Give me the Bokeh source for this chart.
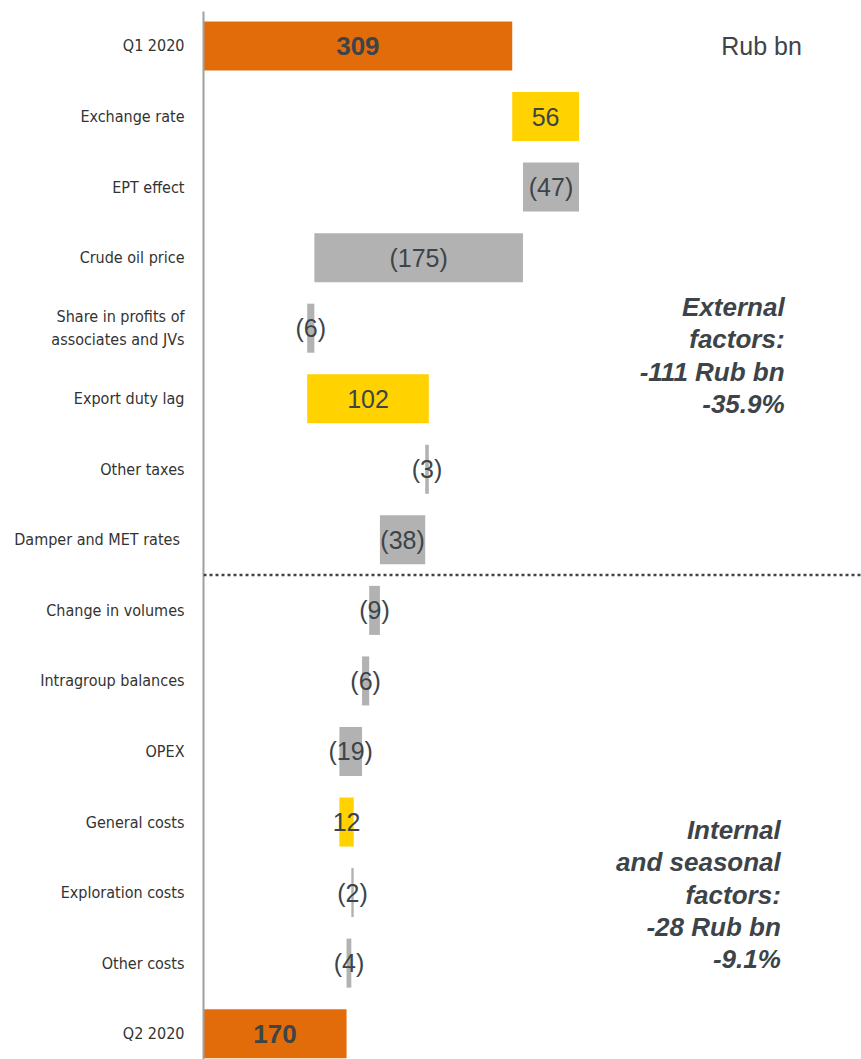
from bokeh.plotting import figure
from bokeh.models import ColumnDataSource, Range1d, FixedTicker, Span
from bokeh.core.properties import value
from bokeh.embed import file_html
from bokeh.resources import INLINE

# Operating profit bridge, Q1 2020 -> Q2 2020 (Rub bn)
categories = [
    "Q1 2020", "Exchange rate", "EPT effect", "Crude oil price",
    "Share in profits of\nassociates and JVs", "Export duty lag", "Other taxes",
    "Damper and MET rates ", "Change in volumes", "Intragroup balances", "OPEX",
    "General costs", "Exploration costs", "Other costs", "Q2 2020",
]
changes = [309, 56, -47, -175, -6, 102, -3, -38, -9, -6, -19, 12, -2, -4, 170]
is_total = [True] + [False] * 13 + [True]

unit_note = "Rub bn"
external_note = "External\nfactors:\n-111 Rub bn\n-35.9%"
internal_note = "Internal\nand seasonal\nfactors:\n-28 Rub bn\n-9.1%"

ORANGE = "#E36C0A"
YELLOW = "#FFD200"
GREY = "#B2B2B2"
TEXT = "#3D4449"

X_START, X_END = 50, 602

# waterfall geometry
lefts, rights, colors, labels, label_x, rows = [], [], [], [], [], []
running = 0
for i, (d, tot) in enumerate(zip(changes, is_total)):
    if tot:
        lo, hi = 0, d
        running = d
        colors.append(ORANGE)
        labels.append(f"{d}")
        label_x.append((max(lo, X_START) + hi) / 2)
    else:
        lo, hi = min(running, running + d), max(running, running + d)
        running += d
        colors.append(YELLOW if d > 0 else GREY)
        labels.append(f"{d}" if d > 0 else f"({-d})")
        label_x.append((lo + hi) / 2)
    lefts.append(lo)
    rights.append(hi)
    rows.append(i)

src = ColumnDataSource(dict(y=rows, left=lefts, right=rights, color=colors))

p = figure(width=861, height=1059, output_backend="svg", toolbar_location=None,
           x_range=Range1d(X_START, X_END), y_range=Range1d(14.366, -0.489),
           x_axis_location=None, min_border_left=203, min_border_right=0,
           min_border_top=11, min_border_bottom=0)
p.outline_line_color = None
p.grid.visible = False
p.background_fill_color = "white"

p.hbar(y="y", left="left", right="right", height=0.695, color="color",
       line_color=None, source=src)

tot_idx = [i for i, t in enumerate(is_total) if t]
delta_idx = [i for i, t in enumerate(is_total) if not t]
tot_src = ColumnDataSource(dict(x=[label_x[i] for i in tot_idx], y=tot_idx,
                                t=[labels[i] for i in tot_idx]))
delta_src = ColumnDataSource(dict(x=[label_x[i] for i in delta_idx], y=delta_idx,
                                  t=[labels[i] for i in delta_idx]))
p.text(x="x", y="y", text="t", source=delta_src, text_align="center",
       text_baseline="middle", text_font=value("Liberation Sans"),
       text_font_size="25px", text_color=TEXT)
p.text(x="x", y="y", text="t", source=tot_src, text_align="center",
       text_baseline="middle", text_font=value("Liberation Sans"),
       text_font_size="26px", text_font_style="bold", text_color=TEXT)

# divider between external and internal factors
p.add_layout(Span(location=7.5, dimension="width", line_color=TEXT,
                  line_width=2.5, line_dash="3 3"))

# side notes
p.text(x=[552], y=[0], text=[unit_note], text_align="right", text_baseline="middle",
       text_font=value("Liberation Sans"), text_font_size="25px", text_color=TEXT)
p.text(x=[537.5], y=[4.39], text=[external_note], text_align="right",
       text_baseline="middle", text_font=value("Liberation Sans"),
       text_font_size="26px", text_font_style="bold italic", text_color=TEXT,
       text_line_height=1.08)
p.text(x=[534.3], y=[12.03], text=[internal_note], text_align="right",
       text_baseline="middle", text_font=value("Liberation Sans"),
       text_font_size="26px", text_font_style="bold italic", text_color=TEXT,
       text_line_height=1.08)

ax = p.yaxis[0]
ax.ticker = FixedTicker(ticks=list(range(len(categories))))
ax.major_label_overrides = {i: c for i, c in enumerate(categories)}
ax.major_tick_line_color = None
ax.minor_tick_line_color = None
ax.major_tick_out = 0
ax.major_label_standoff = 19
ax.axis_line_color = "#A0A0A0"
ax.axis_line_width = 2
ax.major_label_text_font = "DejaVu Sans Condensed, Liberation Sans"
ax.major_label_text_font_size = "16px"
ax.major_label_text_color = "#333333"

open("out.html", "w").write(file_html(p, INLINE))
